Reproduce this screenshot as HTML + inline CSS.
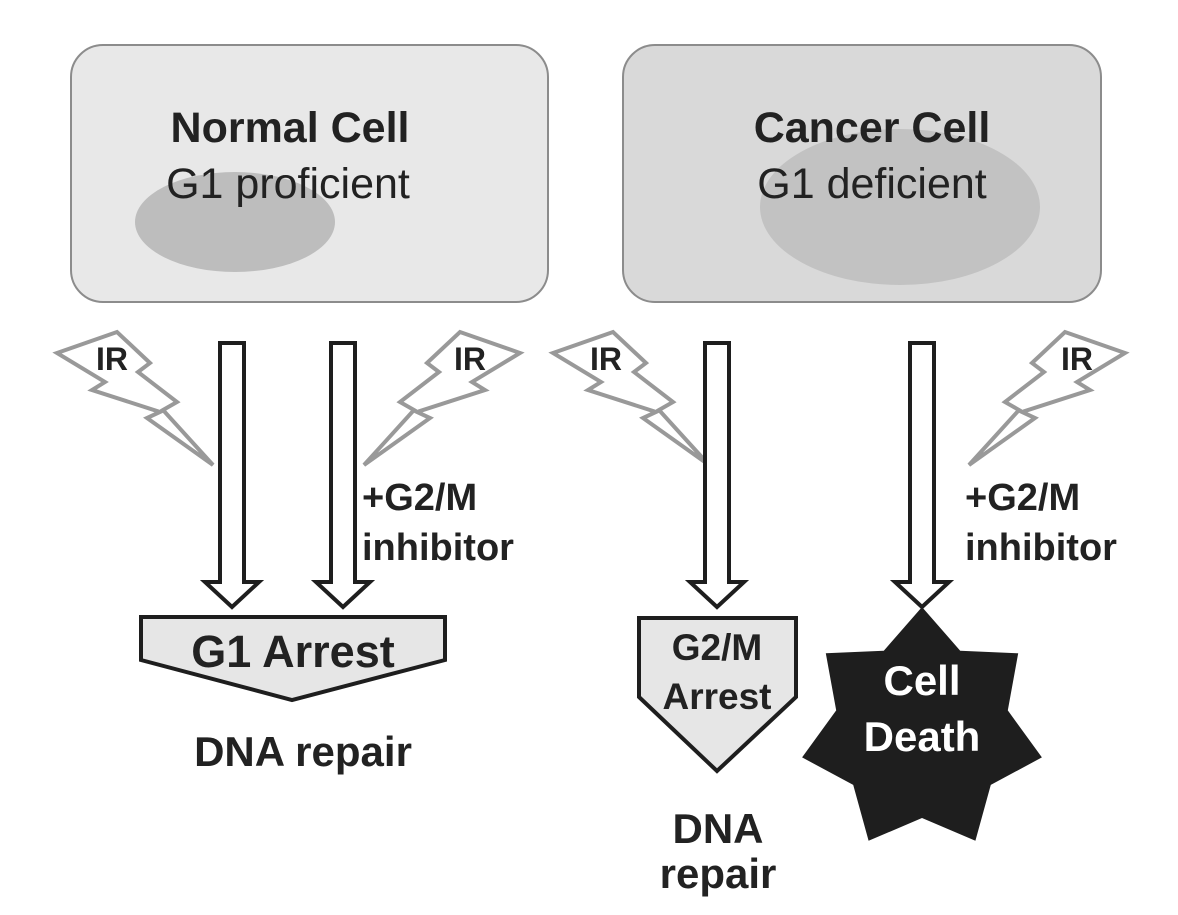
<!DOCTYPE html>
<html><head><meta charset="utf-8"><style>html,body{margin:0;padding:0;background:#fff}</style></head>
<body>
<svg width="1178" height="910" viewBox="0 0 1178 910" xmlns="http://www.w3.org/2000/svg" font-family="Liberation Sans, Arial, sans-serif">
<defs>
<polygon id="boltL" points="57,353 117,332 150,363 138,372 177,402 163,410 213,465 147,418 160,412 92,390 105,382" fill="#fff" stroke="#999" stroke-width="4" stroke-linejoin="miter"/>
<polygon id="arrow" points="-12,0 12,0 12,239 27,239 0,264 -27,239 -12,239" fill="#fff" stroke="#1e1e1e" stroke-width="4"/>
</defs>
<rect x="71" y="45" width="477" height="257" rx="32" fill="#e8e8e8" stroke="#8c8c8c" stroke-width="2"/>
<ellipse cx="235" cy="222" rx="100" ry="50" fill="#bdbdbd"/>
<rect x="623" y="45" width="478" height="257" rx="32" fill="#d9d9d9" stroke="#8c8c8c" stroke-width="2"/>
<ellipse cx="900" cy="207" rx="140" ry="78" fill="#c2c2c2"/>
<text x="290" y="142" font-size="43" font-weight="bold" text-anchor="middle" fill="#222">Normal Cell</text>
<text x="288" y="198" font-size="43" text-anchor="middle" fill="#222">G1 proficient</text>
<text x="872" y="142" font-size="43" font-weight="bold" text-anchor="middle" fill="#222">Cancer Cell</text>
<text x="872" y="198" font-size="43" text-anchor="middle" fill="#222">G1 deficient</text>

<use href="#boltL"/>
<use href="#boltL" transform="translate(577,0) scale(-1,1)"/>
<use href="#boltL" transform="translate(496,0)"/>
<use href="#boltL" transform="translate(1182,0) scale(-1,1)"/>
<g font-size="32" font-weight="bold" fill="#222" text-anchor="middle">
<text x="112" y="370">IR</text><text x="470" y="370">IR</text>
<text x="606" y="370">IR</text><text x="1077" y="370">IR</text>
</g>

<use href="#arrow" transform="translate(232,343)"/>
<use href="#arrow" transform="translate(343,343)"/>
<use href="#arrow" transform="translate(717,343)"/>
<use href="#arrow" transform="translate(922,343)"/>

<g font-size="38" font-weight="bold" fill="#222">
<text x="362" y="510">+G2/M</text><text x="362" y="560">inhibitor</text>
<text x="965" y="510">+G2/M</text><text x="965" y="560">inhibitor</text>
</g>

<polygon points="141,617 445,617 445,660 292,700 141,660" fill="#e6e6e6" stroke="#1e1e1e" stroke-width="4"/>
<text x="293" y="667" font-size="45" font-weight="bold" text-anchor="middle" fill="#222">G1 Arrest</text>
<text x="303" y="766" font-size="42" font-weight="bold" text-anchor="middle" fill="#222">DNA repair</text>

<polygon points="639,618 796,618 796,697 717,771 639,697" fill="#e6e6e6" stroke="#1e1e1e" stroke-width="4"/>
<text x="717" y="660" font-size="37" font-weight="bold" text-anchor="middle" fill="#222">G2/M</text>
<text x="717" y="709" font-size="37" font-weight="bold" text-anchor="middle" fill="#222">Arrest</text>
<text x="718" y="843" font-size="42" font-weight="bold" text-anchor="middle" fill="#222">DNA</text>
<text x="718" y="888" font-size="42" font-weight="bold" text-anchor="middle" fill="#222">repair</text>

<polygon id="star" fill="#1e1e1e" points=""/>
<script>
(function(){var cx=922,cy=730,R=123,r=88,p=[];for(var i=0;i<14;i++){var a=-Math.PI/2+i*Math.PI/7;var rr=i%2?r:R;p.push((cx+rr*Math.cos(a)).toFixed(1)+","+(cy+rr*Math.sin(a)).toFixed(1));}document.getElementById("star").setAttribute("points",p.join(" "));})();
</script>
<text x="922" y="695" font-size="42" font-weight="bold" text-anchor="middle" fill="#fff">Cell</text>
<text x="922" y="751" font-size="42" font-weight="bold" text-anchor="middle" fill="#fff">Death</text>
</svg>
</body></html>
